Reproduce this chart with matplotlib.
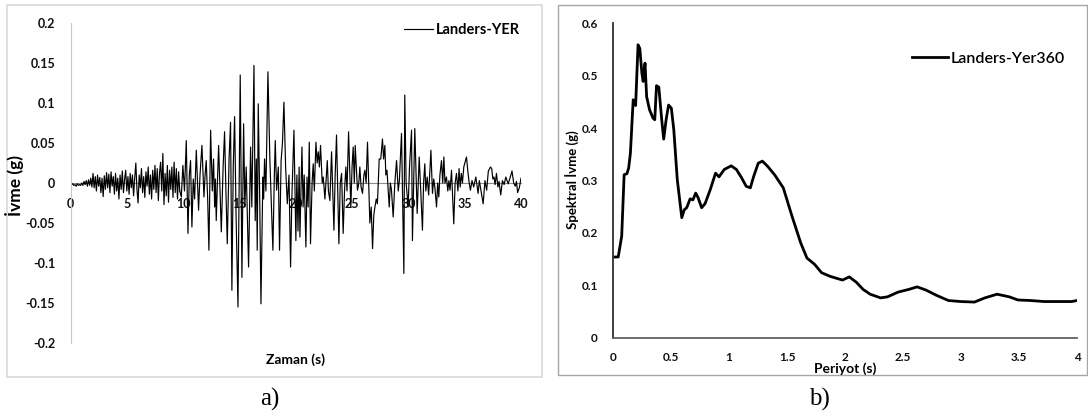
import numpy as np
import matplotlib
matplotlib.use("Agg")
import matplotlib.pyplot as plt
from matplotlib.patches import Rectangle

# --- a) Landers, YER ground acceleration record ---
# first 9.8 s, sampled every 0.1 s
acc_early = [
    0.000, -0.002, -0.001, -0.003, -0.002, -0.004, -0.001, -0.003, -0.002, -0.003,
    0.000, -0.003, 0.002, -0.002, 0.003, -0.004, 0.004, -0.003, 0.006, -0.005,
    0.012, -0.006, 0.008, -0.010, 0.010, -0.004, 0.007, -0.012, 0.006, -0.017,
    0.009, -0.008, 0.013, -0.006, 0.011, -0.012, 0.014, -0.004, 0.008, -0.014,
    0.012, -0.010, 0.006, -0.020, 0.010, -0.008, 0.015, -0.012, 0.004, 0.016,
    -0.010, 0.008, -0.014, 0.012, -0.006, 0.010, -0.016, 0.006, 0.025, -0.008,
    -0.025, 0.010, -0.006, 0.018, -0.012, 0.008, -0.018, 0.014, -0.004, 0.020,
    -0.014, 0.010, -0.020, 0.016, -0.008, 0.022, -0.012, 0.018, -0.022, 0.012,
    0.026, -0.010, 0.037, -0.027, 0.012, -0.016, 0.022, -0.024, 0.016, -0.008,
    0.020, -0.018, 0.026, -0.012, 0.018, -0.020, 0.014, -0.010,
]
time_early = np.arange(0, 9.8, 0.1)

# strong-motion part, peaks and troughs
time_main = [
    9.84, 9.98, 10.12, 10.28, 10.43, 10.55, 10.66, 10.78, 10.9, 11.02,
    11.17, 11.37, 11.5, 11.67, 11.85, 11.95, 12.05, 12.18, 12.29, 12.44,
    12.59, 12.7, 12.8, 12.87, 12.94, 13.15, 13.39, 13.55, 13.68, 13.8,
    13.92, 14.08, 14.21, 14.33, 14.45, 14.57, 14.7, 14.87, 15.07, 15.22,
    15.37, 15.48, 15.6, 15.81, 15.99, 16.1, 16.29, 16.4, 16.5, 16.58,
    16.67, 16.8, 16.91, 17.08, 17.15, 17.23, 17.35, 17.53, 17.7, 17.97,
    18.1, 18.18, 18.3, 18.45, 18.56, 18.7, 18.82, 18.95, 19.1, 19.25,
    19.4, 19.54, 19.65, 19.84, 20.01, 20.1, 20.2, 20.3, 20.37, 20.55,
    20.65, 20.75, 20.9, 21.0, 21.1, 21.2, 21.31, 21.45, 21.55, 21.65,
    21.79, 21.9, 22.0, 22.1, 22.2, 22.35, 22.44, 22.59, 22.8, 22.9,
    23.03, 23.18, 23.39, 23.5, 23.62, 23.83, 23.95, 24.07, 24.21, 24.33,
    24.45, 24.55, 24.69, 24.89, 25.0, 25.1, 25.2, 25.28, 25.48, 25.6,
    25.69, 25.8, 25.93, 26.05, 26.14, 26.25, 26.37, 26.5, 26.58, 26.7,
    26.82, 26.93, 27.03, 27.15, 27.25, 27.41, 27.55, 27.7, 27.8, 27.91,
    28.0, 28.1, 28.3, 28.4, 28.5, 28.65, 28.8, 28.95, 29.1, 29.2,
    29.39, 29.5, 29.6, 29.68, 29.8, 29.98, 30.1, 30.28, 30.36, 30.47,
    30.57, 30.78, 30.96, 31.1, 31.25, 31.35, 31.46, 31.55, 31.67, 31.8,
    32.0, 32.14, 32.25, 32.35, 32.5, 32.6, 32.7, 32.8, 32.94, 33.05,
    33.15, 33.25, 33.38, 33.5, 33.6, 33.7, 33.83, 34.03, 34.15, 34.27,
    34.4, 34.5, 34.6, 34.7, 34.8, 34.92, 35.16, 35.3, 35.4, 35.51,
    35.65, 35.8, 35.99, 36.19, 36.3, 36.45, 36.64, 36.8, 36.95, 37.1,
    37.29, 37.4, 37.5, 37.6, 37.7, 37.82, 37.95, 38.05, 38.2, 38.35,
    38.5, 38.65, 38.86, 39.0, 39.2, 39.35, 39.5, 39.6, 39.7, 39.85,
    40.0,
]
acc_main = [
    -0.0175, 0.022, -0.01, 0.053, -0.063, 0.01, 0.028, -0.055, 0.005, -0.02,
    0.041, -0.034, 0.01, 0.047, -0.0175, 0.01, 0.028, -0.02, -0.084, 0.066,
    -0.01, 0.03, -0.03, 0.005, -0.047, 0.047, -0.061, 0.02, 0.064, -0.01,
    -0.076, 0.03, 0.076, -0.134, 0.02, 0.083, -0.04, -0.155, 0.135, -0.118,
    0.074, -0.03, 0.02, -0.105, 0.045, -0.03, 0.147, -0.047, 0.03, -0.084,
    0.099, -0.02, -0.151, 0.0075, -0.02, 0.03, -0.01, 0.139, 0.03, -0.084,
    0.01, 0.053, -0.009, 0.02, -0.084, 0.028, 0.05, 0.101, 0.02, -0.026,
    0.01, -0.105, -0.02, 0.066, -0.072, 0.01, -0.06, 0.02, -0.0675, 0.045,
    -0.03, 0.01, -0.08, 0.0075, -0.03, 0.051, -0.076, 0.0, 0.024, -0.01,
    0.051, 0.025, 0.039, 0.02, 0.047, 0.0, 0.0075, -0.02, 0.028, -0.01,
    -0.022, 0.039, -0.059, 0.01, 0.06, -0.076, 0.0, 0.012, -0.063, -0.01,
    0.02, -0.01, 0.064, -0.03, 0.02, 0.045, 0.0, 0.047, -0.009, 0.0,
    0.02, -0.005, -0.013, 0.01, 0.016, 0.0, 0.051, -0.01, -0.05, -0.03,
    -0.082, -0.04, -0.03, -0.02, -0.026, 0.03, 0.03, 0.055, 0.03, 0.047,
    0.01, 0.016, -0.03, 0.0, -0.009, -0.0425, 0.0, 0.028, -0.01, 0.003,
    0.062, -0.03, -0.113, 0.11, 0.0, -0.03, 0.02, 0.066, -0.072, 0.0,
    0.068, -0.038, 0.0325, -0.01, -0.059, 0.0, 0.024, -0.01, 0.0075, -0.015,
    0.041, -0.013, 0.005, -0.005, -0.03, 0.0, -0.0175, 0.01, 0.028, 0.0,
    0.0325, 0.0, 0.0075, -0.01, 0.003, -0.009, 0.016, -0.051, 0.0, 0.012,
    -0.01, 0.018, -0.005, 0.012, 0.0, 0.02, 0.0325, 0.012, 0.0, -0.009,
    0.003, -0.005, 0.0075, -0.013, 0.003, -0.01, -0.026, 0.003, -0.009, 0.015,
    0.02, 0.018, 0.005, 0.0075, -0.002, 0.012, -0.005, 0.002, -0.015, 0.003,
    -0.002, 0.0075, -0.001, 0.005, 0.015, 0.0, -0.004, 0.002, -0.012, -0.006,
    0.006,
]

acc_yticks = [-0.2, -0.15, -0.1, -0.05, 0, 0.05, 0.1, 0.15, 0.2]
acc_ylabels = ["-0.2", "-0.15", "-0.1", "-0.05", "0", "0.05", "0.1", "0.15", "0.2"]
acc_xticks = [0, 5, 10, 15, 20, 25, 30, 35, 40]

# --- b) Landers, Yer360 response spectrum ---
period = [
    0.0, 0.045, 0.075, 0.096, 0.12, 0.135, 0.15, 0.174, 0.195, 0.216,
    0.231, 0.249, 0.26, 0.276, 0.29, 0.315, 0.345, 0.36, 0.375, 0.395,
    0.42, 0.437, 0.458, 0.479, 0.503, 0.524, 0.554, 0.593, 0.614, 0.635,
    0.665, 0.689, 0.713, 0.734, 0.764, 0.794, 0.839, 0.884, 0.914, 0.959,
    1.019, 1.064, 1.109, 1.148, 1.184, 1.213, 1.252, 1.288, 1.333, 1.393,
    1.468, 1.543, 1.618, 1.672, 1.738, 1.798, 1.873, 1.978, 2.037, 2.097,
    2.157, 2.217, 2.307, 2.367, 2.457, 2.547, 2.622, 2.697, 2.787, 2.891,
    2.996, 3.116, 3.206, 3.311, 3.416, 3.491, 3.596, 3.716, 3.835, 3.955,
    4.0,
]
sa = [
    0.154, 0.154, 0.194, 0.311, 0.313, 0.324, 0.352, 0.454, 0.443, 0.559,
    0.552, 0.505, 0.489, 0.524, 0.46, 0.435, 0.419, 0.416, 0.481, 0.478,
    0.416, 0.379, 0.416, 0.444, 0.438, 0.397, 0.302, 0.229, 0.244, 0.248,
    0.265, 0.263, 0.276, 0.267, 0.248, 0.256, 0.283, 0.314, 0.307, 0.321,
    0.328, 0.321, 0.305, 0.289, 0.286, 0.308, 0.333, 0.337, 0.327, 0.311,
    0.286, 0.232, 0.181, 0.152, 0.14, 0.124, 0.117, 0.11, 0.116, 0.106,
    0.092, 0.083, 0.076, 0.078, 0.087, 0.092, 0.097, 0.091, 0.081, 0.071,
    0.069, 0.068, 0.076, 0.083, 0.078, 0.072, 0.071, 0.069, 0.069, 0.069,
    0.071,
]
sa_yticks = [0, 0.1, 0.2, 0.3, 0.4, 0.5, 0.6]
sa_ylabels = ["0", "0.1", "0.2", "0.3", "0.4", "0.5", "0.6"]
sa_xticks = [0, 0.5, 1, 1.5, 2, 2.5, 3, 3.5, 4]
sa_xlabels = ["0", "0.5", "1", "1.5", "2", "2.5", "3", "3.5", "4"]

W, H = 1088, 416
sans = ["Lato", "DejaVu Sans"]
fig = plt.figure(figsize=(W / 100, H / 100), dpi=100)


def fx(px):
    return px / W


def fy(py):
    return 1 - py / H


# panel frames
fig.add_artist(Rectangle((fx(7), fy(376.7)), fx(534.7), 371.7 / H,
                         transform=fig.transFigure, fill=False,
                         edgecolor="#d9d9d9", lw=1.2))
fig.add_artist(Rectangle((fx(557.7), fy(375.3)), fx(528.8), 370.3 / H,
                         transform=fig.transFigure, fill=False,
                         edgecolor="#a6a6a6", lw=1.0))

# ---- accelerogram ----
ax1 = fig.add_axes([fx(70.5), fy(343), fx(521 - 70.5), 320 / H])
ax1.plot(time_early, acc_early, color="black", lw=0.85)
ax1.plot(np.concatenate([[time_early[-1]], time_main]),
         np.concatenate([[acc_early[-1]], acc_main]),
         color="black", lw=0.85, label="Landers-YER")
ax1.set_xlim(0, 40)
ax1.set_ylim(-0.2, 0.2)
for s in ("top", "right"):
    ax1.spines[s].set_visible(False)
ax1.spines["bottom"].set_position(("data", 0))
ax1.spines["bottom"].set_color("#8c8c8c")
ax1.spines["left"].set_color("#c8c8c8")
ax1.spines["bottom"].set_zorder(0)
ax1.set_yticks(acc_yticks)
ax1.set_yticklabels(acc_ylabels)
ax1.set_xticks(acc_xticks)
ax1.tick_params(length=0, labelsize=9, colors="#111111")
ax1.tick_params(axis="y", pad=11)
ax1.tick_params(axis="x", pad=11)
for lab in ax1.get_xticklabels() + ax1.get_yticklabels():
    lab.set_family(sans)
    lab.set_fontweight("bold")
ax1.legend(loc="upper right", bbox_to_anchor=(fx(533), fy(10)),
           bbox_transform=fig.transFigure, frameon=False, handlelength=2.0,
           handletextpad=0.2,
           prop={"family": sans, "weight": "bold", "size": 10.5})
fig.text(fx(14), fy(185), "İvme (g)", rotation=90, ha="center", va="center",
         family=sans, weight="bold", size=12.5)
fig.text(fx(296), fy(360), "Zaman (s)", ha="center", va="center",
         family=sans, weight="bold", size=10)

# ---- response spectrum ----
ax2 = fig.add_axes([fx(613), fy(337.7), fx(464), 314.4 / H])
ax2.plot(period, sa, color="black", lw=2.0, label="Landers-Yer360")
ax2.set_xlim(0, 4)
ax2.set_ylim(0, 0.6)
for s in ("top", "right"):
    ax2.spines[s].set_visible(False)
ax2.spines["left"].set_color("#303030")
ax2.spines["bottom"].set_color("#606060")
ax2.spines["left"].set_linewidth(1.3)
ax2.spines["bottom"].set_linewidth(1.3)
ax2.set_yticks(sa_yticks)
ax2.set_yticklabels(sa_ylabels)
ax2.set_xticks(sa_xticks)
ax2.set_xticklabels(sa_xlabels)
ax2.tick_params(length=0, labelsize=8.5, colors="#111111")
ax2.tick_params(axis="y", pad=11)
ax2.tick_params(axis="x", pad=10)
for lab in ax2.get_xticklabels() + ax2.get_yticklabels():
    lab.set_family(sans)
    lab.set_fontweight("bold")
ax2.legend(loc="upper left", bbox_to_anchor=(fx(898), fy(37)),
           bbox_transform=fig.transFigure, frameon=False, handlelength=2.2,
           handletextpad=0.2,
           prop={"family": sans, "weight": "semibold", "size": 11.5})
fig.text(fx(572), fy(180), "Spektral İvme (g)", rotation=90, ha="center",
         va="center", family=sans, weight="bold", size=9.5)
fig.text(fx(845), fy(369), "Periyot (s)", ha="center", va="center",
         family=sans, weight="bold", size=10)

# panel captions
fig.text(fx(270), fy(399), "a)", ha="center", va="center",
         family="Liberation Serif", size=18)
fig.text(fx(819), fy(399), "b)", ha="center", va="center",
         family="Liberation Serif", size=18)

fig.savefig("out.png", dpi=100, facecolor="white")
